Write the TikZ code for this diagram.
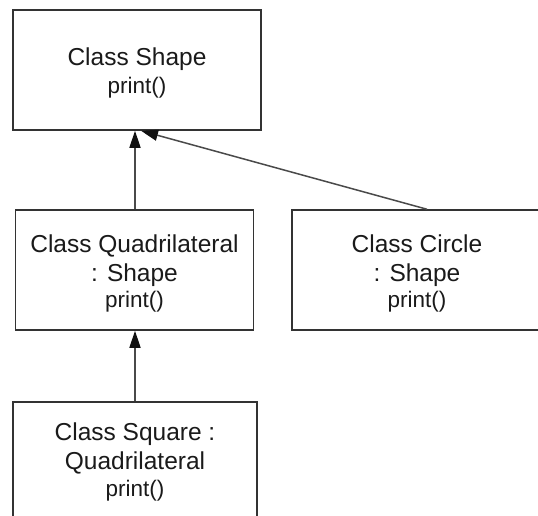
\documentclass[tikz,border=0pt]{standalone}
\usepackage{fontspec}
\setmainfont{Liberation Sans}
\usetikzlibrary{arrows.meta}
\definecolor{boxline}{HTML}{333333}
\definecolor{arrline}{HTML}{4A4A4A}
\definecolor{arrtip}{HTML}{111111}
\definecolor{txt}{HTML}{1A1A1A}
\tikzset{
  classbox/.style={draw=boxline, line width=1.5pt, rectangle, inner sep=0pt, text=txt, align=center,
    font=\fontsize{24.5}{29}\selectfont},
  inherit/.style={draw=arrline, line width=1.5pt, -{Triangle[length=17pt,width=11pt,color=arrtip]}},
}
\newcommand{\meth}[1]{{\fontsize{22.5}{26}\selectfont #1}}
\newcommand{\topstrut}{\rule{0pt}{24pt}}
\begin{document}
\begin{tikzpicture}[x=1pt,y=-1pt]
\useasboundingbox (0,0) rectangle (538,515);
\clip (0,0) rectangle (538,515);
\node[classbox, minimum width=248pt, minimum height=120pt] (shape) at (137,70) {\topstrut Class Shape\\[-1pt]\meth{print()}};
\node[classbox, minimum width=238pt, minimum height=120pt] (quad) at (134.5,270) {\topstrut Class Quadrilateral\\: Shape\\[-3pt]\meth{print()}};
\node[classbox, minimum width=250pt, minimum height=120pt] (circle) at (417,270) {\topstrut Class Circle\\: Shape\\[-3pt]\meth{print()}};
\node[classbox, minimum width=244pt, minimum height=120pt] (square) at (135,462) {Class Square :\\Quadrilateral\\[-2pt]\meth{print()}};
\draw[inherit] (quad.north -| 135,0) -- (shape.south -| 135,0);
\draw[inherit] (square.north -| 135,0) -- (quad.south -| 135,0);
\draw[inherit] (circle.north -| 427,0) -- ([xshift=4pt]shape.south);
\end{tikzpicture}
\end{document}
